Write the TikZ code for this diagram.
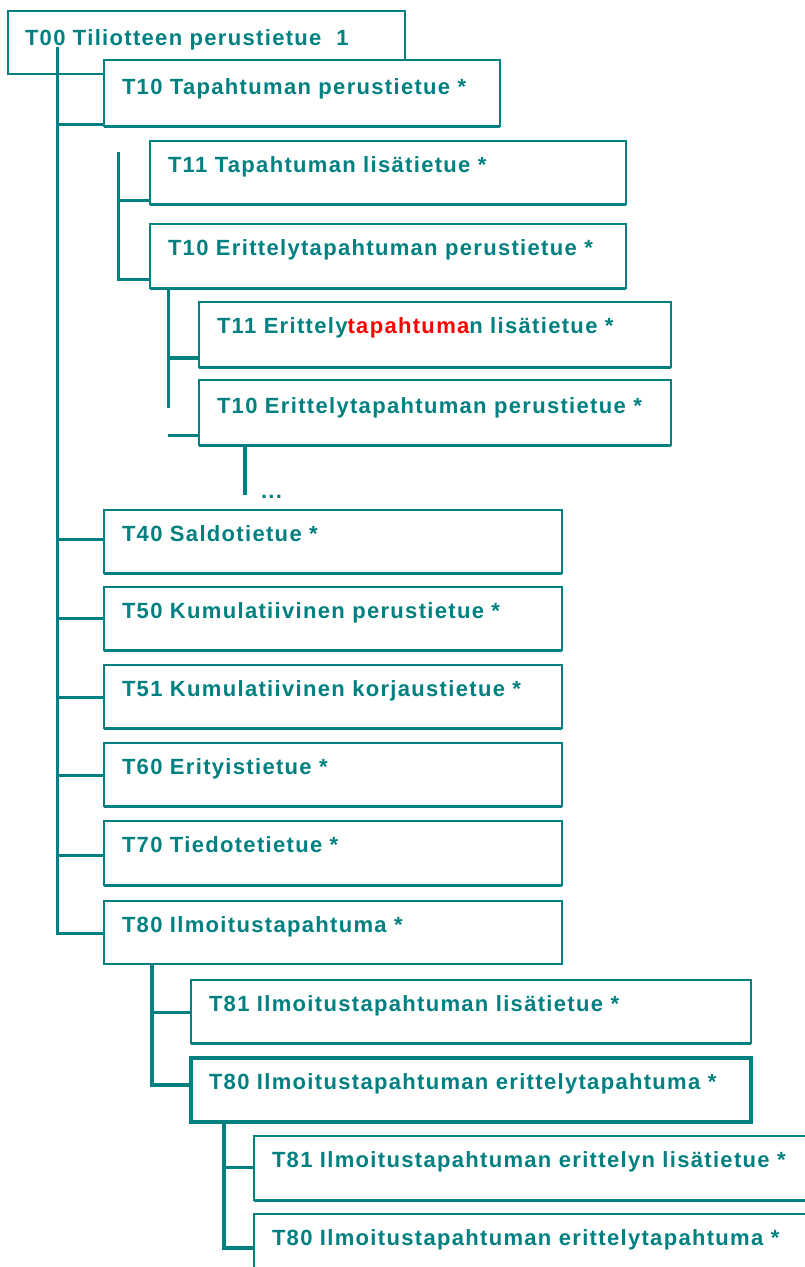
\documentclass[tikz,border=0pt]{standalone}
\usepackage{fontspec}
\setmainfont[LetterSpace=6]{Liberation Sans}
\usetikzlibrary{calc}
\definecolor{tealc}{HTML}{008080}
\definecolor{redc}{HTML}{FF0000}
\tikzset{
  box/.style={draw=tealc, fill=white, line width=1.6pt, rectangle, inner sep=0pt, outer sep=0pt, anchor=north west},
  heavybox/.style={box, line width=3.2pt},
  lbl/.style={anchor=base west, inner sep=0pt, outer sep=0pt, text=tealc, font=\fontsize{22}{26}\selectfont\bfseries},
  conn/.style={draw=tealc, line width=3pt},
  heavyconn/.style={draw=tealc, line width=4pt},
  bottomline/.style={draw=tealc, line width=3pt},
}
\begin{document}
\begin{tikzpicture}[x=1pt,y=-1pt]
\useasboundingbox (0,0) rectangle (805,1267);
\clip (0,0) rectangle (805,1267);
\fill[white] (0,0) rectangle (805,1267);

% root box and trunk start
\node[box, minimum width=397pt, minimum height=63pt] (t00) at (8,11) {};
\node[lbl] (t00l) at ($(t00.north west)+(17,34)$) {T00 Tiliotteen perustietue~~1};
\coordinate (tr0) at (57,47);

% level-1 boxes
\node[box, minimum width=396pt, minimum height=66pt] (t10) at (104,60) {};
\node[box, minimum width=458pt, minimum height=63pt] (t40) at (104,510) {};
\node[box, minimum width=458pt, minimum height=63pt] (t50) at (104,587) {};
\node[box, minimum width=458pt, minimum height=63pt] (t51) at (104,665) {};
\node[box, minimum width=458pt, minimum height=63pt] (t60) at (104,743) {};
\node[box, minimum width=458pt, minimum height=64pt] (t70) at (104,821) {};
\node[box, minimum width=458pt, minimum height=63pt] (t80) at (104,901) {};

% level-2 boxes
\node[box, minimum width=476pt, minimum height=63pt] (t11) at (150,141) {};
\node[box, minimum width=476pt, minimum height=64pt] (t10e) at (150,224) {};
\node[box, minimum width=560pt, minimum height=63pt] (t81) at (191,980) {};
\node[heavybox, minimum width=560pt, minimum height=64pt] (t80e) at (191,1058) {};

% level-3 boxes
\node[box, minimum width=472pt, minimum height=65pt] (t11e) at (199,302) {};
\node[box, minimum width=472pt, minimum height=65pt] (t10e2) at (199,380) {};
\node[box, minimum width=600pt, minimum height=64pt] (t81e) at (254,1136) {};
\node[box, minimum width=600pt, minimum height=90pt] (t80e2) at (254,1214) {};

% heavier bottom edges
\foreach \b in {t10,t11,t10e,t11e,t10e2,t40,t50,t51,t60,t70,t81,t81e}{
  \draw[bottomline] (\b.south west) -- (\b.south east);
}

% labels
\node[lbl] (t10l) at ($(t10.north west)+(18,34)$) {T10 Tapahtuman perustietue *};
\node[lbl] (t11l) at ($(t11.north west)+(18,31)$) {T11 Tapahtuman lisätietue *};
\node[lbl] (t10el) at ($(t10e.north west)+(18,31)$) {T10 Erittelytapahtuman perustietue *};
\node[lbl] (t11el) at ($(t11e.north west)+(18,31)$) {T11 Erittely{\color{redc}tapahtuma}n lisätietue *};
\node[lbl] (t10e2l) at ($(t10e2.north west)+(18,33)$) {T10 Erittelytapahtuman perustietue *};
\node[lbl] (t40l) at ($(t40.north west)+(18,31)$) {T40 Saldotietue *};
\node[lbl] (t50l) at ($(t50.north west)+(18,31)$) {T50 Kumulatiivinen perustietue *};
\node[lbl] (t51l) at ($(t51.north west)+(18,31)$) {T51 Kumulatiivinen korjaustietue *};
\node[lbl] (t60l) at ($(t60.north west)+(18,31)$) {T60 Erityistietue *};
\node[lbl] (t70l) at ($(t70.north west)+(18,31)$) {T70 Tiedotetietue *};
\node[lbl] (t80l) at ($(t80.north west)+(18,31)$) {T80 Ilmoitustapahtuma *};
\node[lbl] (t81l) at ($(t81.north west)+(18,31)$) {T81 Ilmoitustapahtuman lisätietue *};
\node[lbl] (t80el) at ($(t80e.north west)+(18,31)$) {T80 Ilmoitustapahtuman erittelytapahtuma *};
\node[lbl] (t81el) at ($(t81e.north west)+(18,31)$) {T81 Ilmoitustapahtuman erittelyn lisätietue *};
\node[lbl] (t80e2l) at ($(t80e2.north west)+(18,31)$) {T80 Ilmoitustapahtuman erittelytapahtuma *};

% branch points on the boxes
\coordinate (c10) at ($(t10.north west)+(0,64)$);
\coordinate (c40) at ($(t40.north west)+(0,29)$);
\coordinate (c50) at ($(t50.north west)+(0,31)$);
\coordinate (c51) at ($(t51.north west)+(0,32)$);
\coordinate (c60) at ($(t60.north west)+(0,32)$);
\coordinate (c70) at ($(t70.north west)+(0,34)$);
\coordinate (c80) at ($(t80.north west)+(0,32)$);
\coordinate (c11) at ($(t11.north west)+(0,59)$);
\coordinate (c10e) at ($(t10e.north west)+(0,55)$);
\coordinate (c11e) at ($(t11e.north west)+(0,56)$);
\coordinate (c10e2) at ($(t10e2.north west)+(0,55)$);
\coordinate (c81) at ($(t81.north west)+(0,32)$);
\coordinate (c80e) at ($(t80e.north west)+(0,27)$);
\coordinate (c81e) at ($(t81e.north west)+(0,31)$);
\coordinate (c80e2) at ($(t80e2.north west)+(0,34)$);

% main trunk
\draw[conn] (tr0) |- (c80);
\foreach \c in {c10,c40,c50,c51,c60,c70}{
  \draw[conn] (tr0 |- \c) -- (\c);
}

% subtree of T10 Tapahtuman perustietue
\coordinate (s1) at (118,152);
\draw[conn] (s1) |- (c10e);
\draw[conn] (s1 |- c11) -- (c11);

% subtree of T10 Erittelytapahtuman perustietue
\coordinate (s2) at ($(t10e.south west)+(18,0)$);
\coordinate (s2e) at ($(t10e.south west)+(18,120)$);
\draw[conn] (s2) -- (s2e);
\draw[heavyconn] (s2 |- c11e) -- (c11e);
\draw[conn] (s2 |- c10e2) -- (c10e2);

% continuation dots
\coordinate (s3) at ($(t10e2.south west)+(46,0)$);
\coordinate (s3e) at ($(t10e2.south west)+(46,50)$);
\draw[heavyconn] (s3) -- (s3e);
\node[lbl] (dots) at ($(t10e2.south west)+(62,53)$) {...};

% subtree of T80 Ilmoitustapahtuma
\coordinate (s4) at ($(t80.south west)+(48,0)$);
\draw[heavyconn] (s4) |- (c80e);
\draw[conn] (s4 |- c81) -- (c81);

% subtree of T80 Ilmoitustapahtuman erittelytapahtuma
\coordinate (s5) at ($(t80e.south west)+(33,0)$);
\draw[heavyconn] (s5) |- (c80e2);
\draw[conn] (s5 |- c81e) -- (c81e);
\end{tikzpicture}
\end{document}
